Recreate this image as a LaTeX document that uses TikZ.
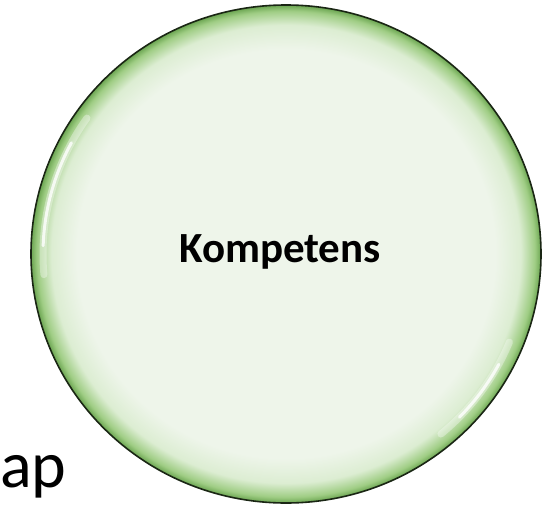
\documentclass[tikz,border=0pt]{standalone}
\usepackage{fontspec}
\setmainfont{Carlito}
\usepackage{tikz}
\usetikzlibrary{shapes.geometric,calc}

\definecolor{kin}{HTML}{EEF5EA}
\definecolor{kmid}{HTML}{DCEDD2}
\definecolor{kgreen}{HTML}{9FCD84}
\definecolor{kdark}{HTML}{6BA551}
\definecolor{krim}{HTML}{1A2614}

\pgfdeclareradialshading{ballgreen}{\pgfpoint{0bp}{0bp}}{%
  color(0bp)=(kin); color(20.5bp)=(kin); color(23bp)=(kmid);
  color(24.4bp)=(kgreen); color(25bp)=(kdark); color(50bp)=(kdark)}

\begin{document}
\begin{tikzpicture}[
x=1pt, y=-1pt,
ball/.style={
    ellipse,
    draw=krim,
    line width=1.6pt,
    shading=ballgreen,
    minimum width=510pt,
    minimum height=498pt,
    inner sep=0pt
},
gloss/.style={white, line cap=round},
balltext/.style={font=\fontsize{43}{50}\selectfont\bfseries},
cuttext/.style={anchor=base west, inner sep=0pt, font=\fontsize{66}{70}\selectfont}
]
\useasboundingbox (0,0) rectangle (559,506);

\node[ball] (komp) at (286,254) {};

% shine on the rim
\draw[gloss, line width=7pt, opacity=0.35] ($(komp.center)+(145:243pt and 237pt)$)
    arc[start angle=145, end angle=185, x radius=243pt, y radius=237pt];
\draw[gloss, line width=3pt, opacity=0.8] ($(komp.center)+(152:243pt and 237pt)$)
    arc[start angle=152, end angle=178, x radius=243pt, y radius=237pt];
\draw[gloss, line width=7pt, opacity=0.35] ($(komp.center)+(-22:241pt and 235pt)$)
    arc[start angle=-22, end angle=-50, x radius=241pt, y radius=235pt];
\draw[gloss, line width=3pt, opacity=0.8] ($(komp.center)+(-28:241pt and 235pt)$)
    arc[start angle=-28, end angle=-44, x radius=241pt, y radius=235pt];

\node[balltext] (komptext) at ($(komp.center)+(-6,-2)$) {Kompetens};
\node[cuttext] (ap) at (0,487) {ap};

\end{tikzpicture}
\end{document}
